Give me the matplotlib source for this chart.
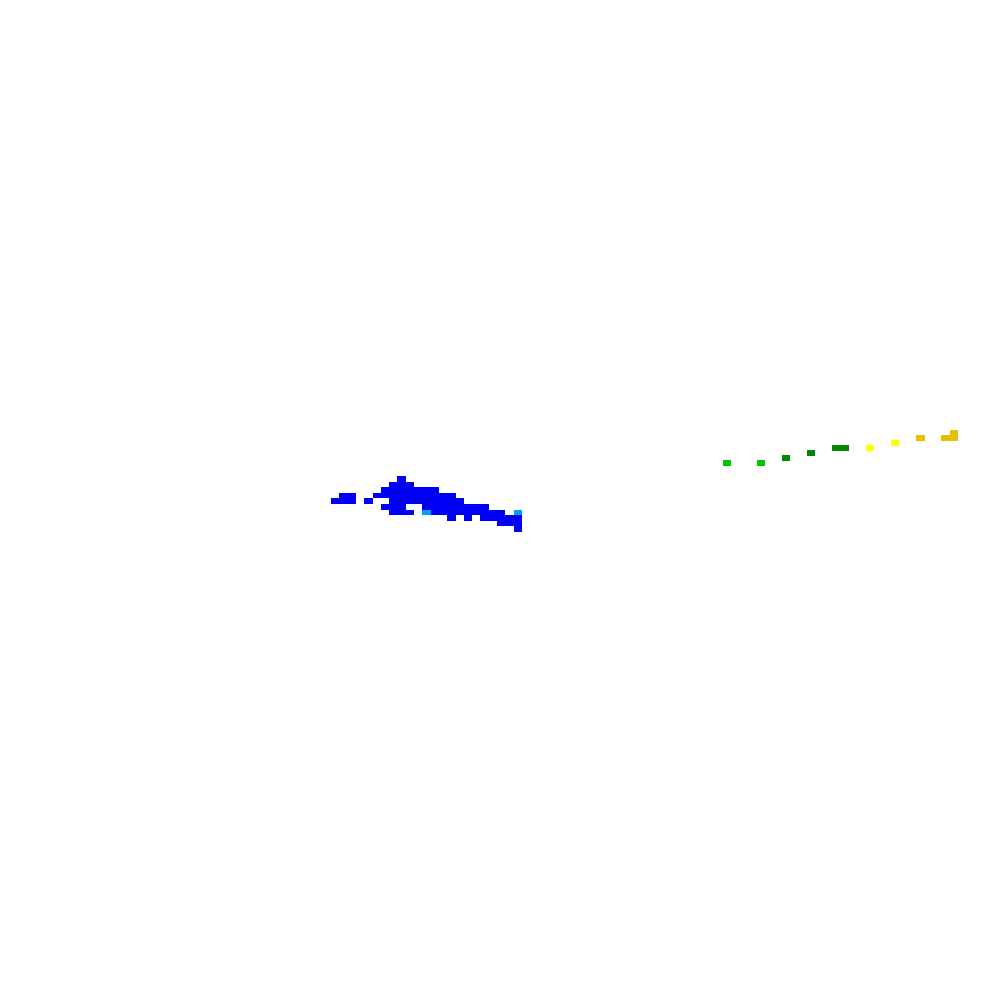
import numpy as np
import matplotlib
matplotlib.use('Agg')
import matplotlib.pyplot as plt

# reflectivity colours
level_colors = {'blue': '#0000F6', 'sky': '#01A0F6', 'green': '#00C800',
                'dkgreen': '#008800', 'yellow': '#FFFF00', 'gold': '#E7C000'}

# west patch: grid runs (row, first column, last column, level)
west_row = [0, 1, 2, 3, 3, 4, 4, 4, 5, 5, 6, 6, 6, 6, 7, 7, 7, 8, 9]
west_first = [8, 7, 6, 1, 5, 0, 4, 7, 6, 11, 7, 11, 12, 22, 14, 16, 18, 20, 22]
west_last = [8, 9, 12, 2, 14, 2, 4, 15, 8, 18, 9, 11, 20, 22, 14, 16, 22, 22, 22]
west_level = ['blue', 'blue', 'blue', 'blue', 'blue', 'blue', 'blue', 'blue', 'blue', 'blue',
              'blue', 'sky', 'blue', 'sky', 'blue', 'blue', 'blue', 'blue', 'blue']

# east patch
east_row = [6, 6, 5, 4, 3, 3, 2, 1, 1, 0, 1]
east_first = [0, 4, 7, 10, 13, 17, 20, 23, 26, 27, 27]
east_last = [0, 4, 7, 10, 14, 17, 20, 23, 26, 27, 27]
east_level = ['green', 'green', 'dkgreen', 'dkgreen', 'dkgreen', 'yellow', 'yellow',
              'gold', 'gold', 'gold', 'gold']


def draw_patch(ax, rows, first, last, levels, x0, y0, dx, dy, h):
    rows = np.array(rows)
    first = np.array(first)
    last = np.array(last)
    ax.bar(x0 + first * dx, h, width=(last - first + 1) * dx, bottom=y0 + rows * dy,
           align='edge', color=[level_colors[k] for k in levels],
           linewidth=0, antialiased=False)


fig = plt.figure(figsize=(10, 10), dpi=100)
ax = fig.add_axes([0, 0, 1, 1])

draw_patch(ax, west_row, west_first, west_last, west_level, 331, 476, 8.3, 5.6, 5.6)
draw_patch(ax, east_row, east_first, east_last, east_level, 723, 430, 8.4, 5.05, 6.0)

ax.set_xlim(0, 1000)
ax.set_ylim(1000, 0)
ax.axis('off')

fig.savefig('out.png', dpi=100, facecolor='white')
